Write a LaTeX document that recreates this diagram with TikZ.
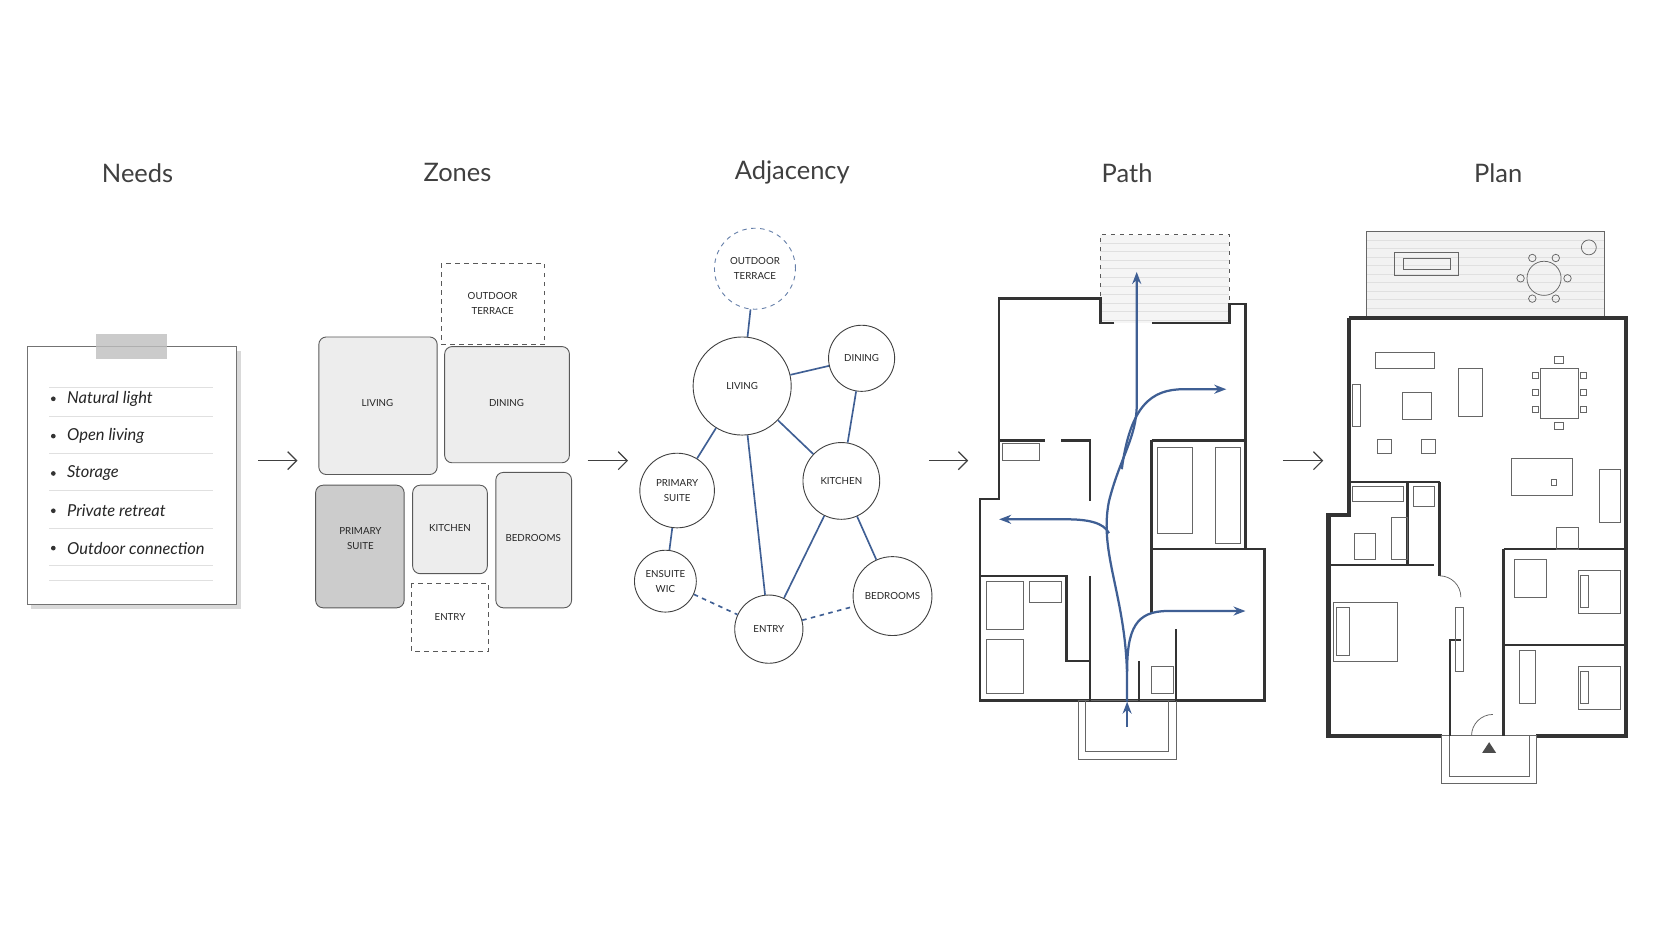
\documentclass[tikz,border=0pt]{standalone}
\usepackage{fontspec}
\setmainfont{Lato}
\usetikzlibrary{arrows.meta,calc}
\definecolor{bl}{HTML}{3F5F94}
\definecolor{wl}{HTML}{333333}
\tikzset{
 ttl/.style={font=\fontsize{17}{17}\selectfont, text=black!75},
 lbl/.style={font=\fontsize{6.5}{8}\selectfont, text=black!85, align=center},
 zone/.style={draw=black!65, rounded corners=5pt, line width=0.6pt},
 dzone/.style={draw=black!65, dashed, line width=0.6pt},
 bub/.style={draw=black!75, circle, line width=0.6pt, fill=white, lbl, inner sep=0pt},
 edg/.style={draw=bl, line width=1.1pt},
 flow/.style={draw=bl, line width=1.5pt, -{Stealth[length=8pt,width=6pt]}},
 parr/.style={draw=black!75, line width=0.8pt, -{Straight Barb[length=6pt]}},
 wall/.style={draw=wl, line width=1.6pt},
 twall/.style={draw=wl, line width=3pt},
 thin/.style={draw=black!60, line width=0.5pt},
 item/.style={font=\itshape\fontsize{11}{12}\selectfont, anchor=west, text=black!85}
}
\begin{document}
\begin{tikzpicture}[x=0.25mm,y=-0.25mm]
\useasboundingbox[fill=white] (0,0) rectangle (1568,882);
% titles
\node[ttl] (t1) at (129,162) {Needs};
\node[ttl] (t2) at (429,162) {Zones};
\node[ttl] (t3) at (743,162) {Adjacency};
\node[ttl] (t4) at (1057,162) {Path};
\node[ttl] (t5) at (1405,162) {Plan};
% arrows
\coordinate (a1) at (242,432); \coordinate (b1) at (279,432);
\coordinate (a2) at (551,432); \coordinate (b2) at (589,432);
\coordinate (a3) at (871,432); \coordinate (b3) at (908,432);
\coordinate (a4) at (1203,432); \coordinate (b4) at (1241,432);
\foreach \i in {1,...,4} \draw[parr] (a\i) -- (b\i);
% Needs
\fill[black!15] (29,329) rectangle (226,571);
\draw[black!55, fill=white, line width=0.6pt] (26,325) rectangle (222,567);
\fill[black!25, opacity=0.8] (90,313) rectangle (157,337);
\foreach \y/\t in {374/Natural light,409/Open living,444/Storage,479/Private retreat,514/Outdoor connection}{
  \fill[black!80] (50,\y) circle (2.2);
  \node[item] at (58,\y) {\t};
  \draw[black!12] (46,\y+16) -- (200,\y+16);
}
\draw[black!12] (46,363) -- (200,363);
\draw[black!12] (46,544) -- (200,544);
% Zones
\draw[dzone] (414,247) rectangle (511,323);
\node[lbl] at (462,285) {OUTDOOR\\[2pt]TERRACE};
\draw[zone, fill=black!7] (299,316) rectangle (410,445);
\node[lbl] at (354,378) {LIVING};
\draw[zone, fill=black!7] (417,325) rectangle (534,434);
\node[lbl] at (475,378) {DINING};
\draw[zone, fill=black!20] (296,455) rectangle (379,570);
\node[lbl] at (338,505) {PRIMARY\\[2pt]SUITE};
\draw[zone, fill=black!7] (387,455) rectangle (457,538);
\node[lbl] at (422,495) {KITCHEN};
\draw[zone, fill=black!7] (465,443) rectangle (536,570);
\node[lbl] at (500,505) {BEDROOMS};
\draw[dzone] (386,547) rectangle (458,611);
\node[lbl] at (422,579) {ENTRY};
% Adjacency
\node[bub, minimum size=76*0.25mm, dashed, draw=bl!80] (ot) at (708,252) {OUTDOOR\\[2pt]TERRACE};
\node[bub, minimum size=92*0.25mm] (lv) at (696,362) {LIVING};
\node[bub, minimum size=62*0.25mm] (dn) at (808,336) {DINING};
\node[bub, minimum size=70*0.25mm] (ps) at (635,460) {PRIMARY\\[2pt]SUITE};
\node[bub, minimum size=72*0.25mm] (kt) at (789,451) {KITCHEN};
\node[bub, minimum size=58*0.25mm] (es) at (624,545) {ENSUITE\\[2pt]WIC};
\node[bub, minimum size=64*0.25mm] (en) at (721,590) {ENTRY};
\node[bub, minimum size=74*0.25mm] (bd) at (837,559) {BEDROOMS};
\foreach \a/\b in {ot/lv,lv/dn,lv/ps,lv/kt,lv/en,dn/kt,kt/en,kt/bd,ps/es}
  \draw[edg] (\a) -- (\b);
\draw[edg, dashed] (es) -- (en);
\draw[edg, dashed] (en) -- (bd);
% Path plan
\fill[black!4] (1032,220) rectangle (1153,303);
\foreach \y in {228,236,...,300} \draw[black!12, line width=0.3pt] (1032,\y) -- (1153,\y);
\draw[dashed, black!65] (1032,303) -- (1032,220) -- (1153,220) -- (1153,303);
\draw[wall] (1045,303) -- (1032,303) -- (1032,280) -- (937,280) -- (937,468) -- (919,468) -- (919,657) -- (1186,657) -- (1186,515) -- (1168,515) -- (1168,285) -- (1153,285) -- (1153,303) -- (1080,303);
\draw[thin] (1011,657) rectangle (1103,712);
\draw[thin] (1018,657) -- (1018,705) -- (1096,705) -- (1096,657);
\draw[wall] (937,413) -- (980,413);
\draw[wall] (995,413) -- (1022,413) -- (1022,470);
\draw[wall] (1022,540) -- (1022,657);
\draw[wall] (919,540) -- (1000,540) -- (1000,620) -- (1022,620);
\draw[wall] (1080,413) -- (1168,413);
\draw[wall] (1080,413) -- (1080,515) -- (1168,515);
\draw[wall] (1080,515) -- (1080,575);
\draw[wall] (1103,590) -- (1103,657);
\draw[wall] (1068,620) -- (1068,657);
\draw[thin] (1085,420) rectangle (1118,500);
\draw[thin] (1140,420) rectangle (1163,510);
\draw[thin] (940,416) rectangle (975,432);
\draw[thin] (925,545) rectangle (960,590);
\draw[thin] (965,545) rectangle (995,565);
\draw[thin] (925,600) rectangle (960,650);
\draw[thin] (1080,625) rectangle (1100,650);
\coordinate (p0) at (1057,682);
\coordinate (pt) at (1066,255);
\coordinate (pl) at (937,487);
\coordinate (pr) at (1150,365);
\coordinate (pb) at (1168,573);
\draw[flow] (p0) -- (1057,658);
\draw[flow] (1057,658) -- (1057,640) .. controls (1057,560) and (1030,520) .. (1040,470) .. controls (1050,430) and (1066,410) .. (1066,380) -- (pt);
\draw[flow] (1040,500) .. controls (1035,490) and (1020,487) .. (1000,487) -- (pl);
\draw[flow] (1052,440) .. controls (1060,380) and (1080,365) .. (1110,365) -- (pr);
\draw[flow] (1057,630) .. controls (1057,590) and (1065,573) .. (1095,573) -- (pb);
% Final plan
\fill[black!5] (1281,217) rectangle (1505,297);
\foreach \y in {225,233,...,295} \draw[black!12, line width=0.3pt] (1281,\y) -- (1505,\y);
\draw[thin] (1281,297) -- (1281,217) -- (1505,217) -- (1505,297);
\draw[thin] (1308,237) rectangle (1368,258);
\draw[thin] (1316,242) rectangle (1360,253);
\draw[thin] (1448,261) circle (16);
\foreach \a in {0,60,...,300} \draw[thin] ($(1448,261)+(\a:22)$) circle (3.5);
\draw[thin] (1490,232) circle (7);
\draw[twall] (1265,298) -- (1525,298) -- (1525,690) -- (1440,690);
\draw[twall] (1352,690) -- (1246,690) -- (1246,483) -- (1265,483) -- (1265,298);
\draw[thin] (1352,690) rectangle (1441,735);
\draw[thin] (1359,690) -- (1359,728) -- (1434,728) -- (1434,690);
\fill[black!70] (1390,706) -- (1403,706) -- (1396.5,696) -- cycle;
\draw[wall] (1265,452) -- (1350,452);
\draw[wall] (1350,452) -- (1350,540);
\draw[wall] (1246,530) -- (1345,530);
\draw[wall] (1370,600) -- (1360,600) -- (1360,690);
\draw[wall] (1410,515) -- (1525,515);
\draw[wall] (1410,515) -- (1410,690);
\draw[wall] (1410,605) -- (1525,605);
\draw[wall] (1320,452) -- (1320,530);
\draw[thin] (1290,330) rectangle (1345,345);
\draw[thin] (1368,345) rectangle (1390,390);
\draw[thin] (1315,368) rectangle (1342,393);
\draw[thin] (1268,360) rectangle (1276,400);
\draw[thin] (1292,412) rectangle (1305,425);
\draw[thin] (1333,412) rectangle (1346,425);
\draw[thin] (1445,345) rectangle (1480,392);
\foreach \y in {352,368,384} {\draw[thin] (1437,\y-3) rectangle (1443,\y+3); \draw[thin] (1482,\y-3) rectangle (1488,\y+3);}
\draw[thin] (1458,334) rectangle (1466,341); \draw[thin] (1458,396) rectangle (1466,403);
\draw[thin] (1417,430) rectangle (1475,465);
\draw[thin] (1500,440) rectangle (1520,490);
\draw[thin] (1455,450) rectangle (1460,455);
\draw[thin] (1268,456) rectangle (1316,470);
\draw[thin] (1270,500) rectangle (1290,525);
\draw[thin] (1305,485) rectangle (1320,525);
\draw[thin] (1325,456) rectangle (1345,475);
\draw[thin] (1250,565) rectangle (1310,620);
\draw[thin] (1253,570) rectangle (1265,615);
\draw[thin] (1480,535) rectangle (1520,575);
\draw[thin] (1482,540) rectangle (1490,570);
\draw[thin] (1480,625) rectangle (1520,665);
\draw[thin] (1482,630) rectangle (1490,660);
\draw[thin] (1420,525) rectangle (1450,560);
\draw[thin] (1460,495) rectangle (1480,515);
\draw[thin] (1350,540) arc (-90:0:20);
\draw[thin] (1380,690) arc (180:270:20);
\draw[thin] (1425,610) rectangle (1440,660);
\draw[thin] (1365,570) rectangle (1372,630);
\end{tikzpicture}
\end{document}
